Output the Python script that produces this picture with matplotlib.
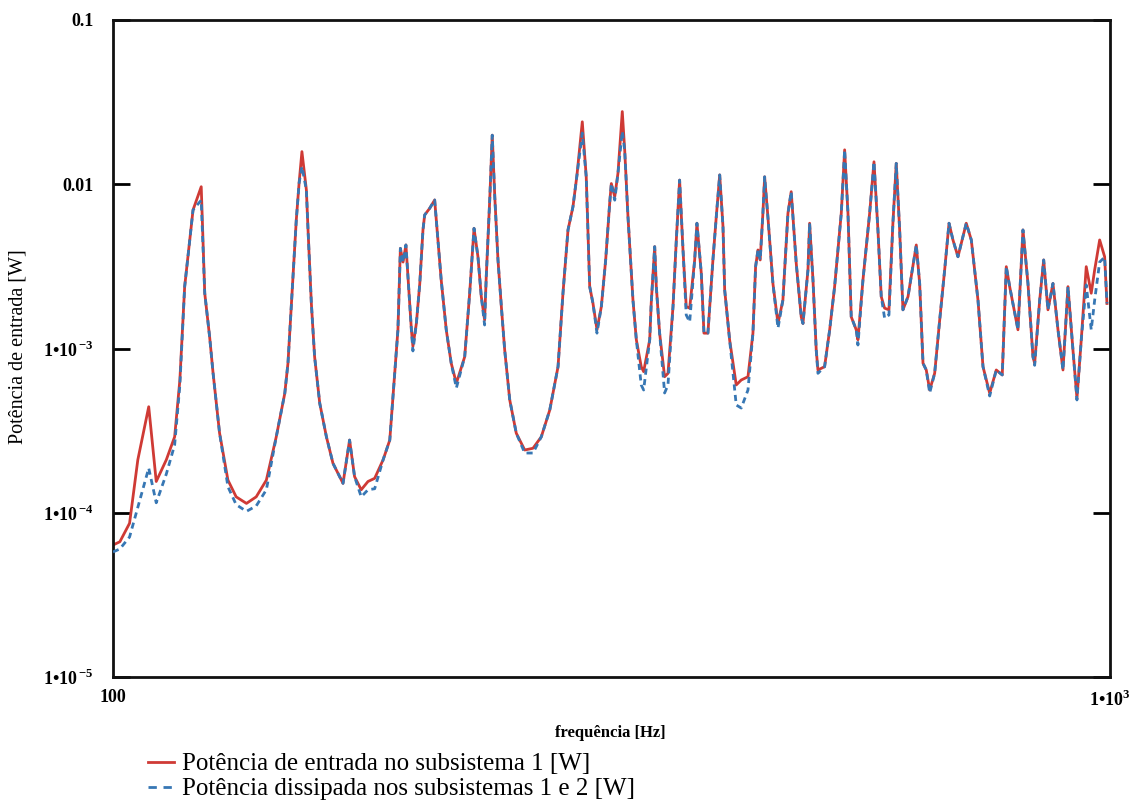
# ----------------------------------------------------------------------------------------------------------------------
# IMPORT GENERAL PACKAGES
# ----------------------------------------------------------------------------------------------------------------------

import matplotlib
matplotlib.use('Agg')
import matplotlib.pyplot as plt
from matplotlib.ticker import FixedLocator, NullLocator
from matplotlib.lines import Line2D

plt.rcParams['font.family'] = 'Liberation Serif'
plt.rcParams['mathtext.fontset'] = 'custom'
plt.rcParams['mathtext.rm'] = 'Liberation Serif'
plt.rcParams['mathtext.bf'] = 'Liberation Serif:bold'

# ----------------------------------------------------------------------------------------------------------------------
# DATA
# ----------------------------------------------------------------------------------------------------------------------

freq_hz = [
    100.0, 101.6, 103.9, 105.9, 108.6, 110.5, 113.1, 115.3, 116.7, 118.0,
    120.3, 122.6, 123.6, 125.0, 126.0, 127.9, 130.4, 132.9, 136.1, 139.2,
    142.5, 145.8, 148.7, 149.8, 152.7, 153.7, 154.7, 156.3, 156.9, 158.1,
    159.3, 161.2, 163.7, 166.2, 170.1, 172.7, 174.7, 177.4, 180.2, 183.0,
    186.6, 189.5, 191.7, 193.1, 194.2, 195.4, 196.7, 199.2, 199.9, 201.5,
    203.1, 204.6, 205.4, 207.8, 210.2, 213.4, 215.9, 218.4, 221.0, 225.3,
    227.9, 230.2, 232.3, 234.1, 235.9, 236.8, 238.7, 240.1, 241.5, 243.3,
    245.2, 247.1, 250.0, 253.8, 258.8, 263.8, 268.9, 274.2, 279.5, 282.7,
    286.0, 289.3, 292.0, 295.6, 298.3, 300.7, 303.0, 305.8, 308.9, 312.0,
    314.9, 316.1, 318.6, 321.0, 324.2, 326.0, 328.5, 332.3, 334.9, 338.7,
    340.6, 345.4, 346.6, 349.4, 350.7, 353.4, 357.5, 360.3, 364.5, 367.3,
    370.1, 373.0, 375.8, 378.8, 383.2, 385.2, 389.1, 391.5, 395.1, 399.7,
    402.8, 406.0, 409.1, 410.7, 415.4, 421.8, 426.7, 433.4, 438.4, 441.1,
    443.5, 445.8, 448.6, 450.4, 453.8, 459.1, 464.5, 469.8, 475.3, 478.9,
    484.5, 490.1, 492.1, 497.8, 499.7, 503.6, 507.4, 509.4, 517.3, 523.4,
    529.4, 537.6, 541.8, 546.0, 550.1, 556.5, 558.7, 565.2, 574.0, 579.8,
    585.1, 589.6, 594.2, 600.2, 605.7, 610.4, 615.2, 619.9, 627.2, 639.3,
    644.3, 649.3, 654.2, 659.4, 667.0, 674.8, 682.6, 689.5, 695.8, 703.9,
    717.5, 725.9, 737.2, 745.8, 757.4, 769.0, 779.7, 787.0, 793.2, 808.5,
    817.9, 827.4, 837.0, 840.3, 850.1, 858.0, 866.5, 876.6, 886.8, 897.1,
    907.5, 918.0, 926.5, 935.8, 946.6, 957.6, 965.2, 976.4, 987.7, 993.0,
]

# input power in subsystem 1 [W]
pot_entrada = [
    6.36e-5, 6.66e-5, 8.63e-5, 2.10e-4, 4.42e-4, 1.55e-4, 2.10e-4, 2.90e-4, 6.43e-4, 2.38e-3,
    6.97e-3, 9.66e-3, 2.17e-3, 1.18e-3, 7.09e-4, 3.06e-4, 1.58e-4, 1.25e-4, 1.14e-4, 1.25e-4,
    1.58e-4, 2.90e-4, 5.34e-4, 8.16e-4, 6.06e-3, 1.02e-2, 1.58e-2, 9.23e-3, 5.27e-3, 1.89e-3,
    8.91e-4, 4.64e-4, 2.90e-4, 2.00e-4, 1.51e-4, 2.77e-4, 1.66e-4, 1.38e-4, 1.55e-4, 1.62e-4,
    2.10e-4, 2.77e-4, 7.06e-4, 1.30e-3, 4.07e-3, 3.36e-3, 4.27e-3, 1.30e-3, 1.03e-3, 1.42e-3,
    2.49e-3, 5.27e-3, 6.50e-3, 7.14e-3, 8.02e-3, 2.61e-3, 1.30e-3, 8.13e-4, 6.14e-4, 8.91e-4,
    2.17e-3, 5.39e-3, 3.62e-3, 2.07e-3, 1.49e-3, 2.74e-3, 8.02e-3, 1.99e-2, 8.40e-3, 3.46e-3,
    1.80e-3, 9.79e-4, 4.86e-4, 3.05e-4, 2.41e-4, 2.47e-4, 2.90e-4, 4.22e-4, 7.75e-4, 2.17e-3,
    5.27e-3, 7.30e-3, 1.14e-2, 2.40e-2, 1.11e-2, 2.38e-3, 1.88e-3, 1.30e-3, 1.80e-3, 3.46e-3,
    7.66e-3, 1.01e-2, 8.40e-3, 1.17e-2, 2.77e-2, 1.62e-2, 6.34e-3, 1.97e-3, 1.13e-3, 7.75e-4,
    7.23e-4, 1.13e-3, 1.88e-3, 4.17e-3, 2.38e-3, 1.24e-3, 6.73e-4, 7.06e-4, 1.80e-3, 4.58e-3,
    1.06e-2, 3.98e-3, 1.80e-3, 1.76e-3, 3.46e-3, 5.79e-3, 2.87e-3, 1.24e-3, 1.24e-3, 3.46e-3,
    6.34e-3, 1.14e-2, 5.52e-3, 2.27e-3, 1.13e-3, 6.00e-4, 6.43e-4, 6.73e-4, 1.24e-3, 3.15e-3,
    3.98e-3, 3.46e-3, 6.65e-3, 1.11e-2, 6.34e-3, 2.49e-3, 1.42e-3, 1.97e-3, 6.65e-3, 9.01e-3,
    3.30e-3, 1.56e-3, 1.42e-3, 3.01e-3, 5.79e-3, 2.61e-3, 9.79e-4, 7.40e-4, 7.75e-4, 1.30e-3,
    2.38e-3, 6.65e-3, 1.62e-2, 6.65e-3, 1.56e-3, 1.30e-3, 1.13e-3, 2.61e-3, 6.65e-3, 1.37e-2,
    5.27e-3, 2.07e-3, 1.76e-3, 1.72e-3, 5.79e-3, 1.34e-2, 5.27e-3, 1.72e-3, 2.07e-3, 4.27e-3,
    2.49e-3, 8.13e-4, 7.40e-4, 5.59e-4, 7.06e-4, 1.49e-3, 3.01e-3, 5.79e-3, 4.58e-3, 3.62e-3,
    5.79e-3, 4.58e-3, 1.97e-3, 7.75e-4, 5.34e-4, 7.40e-4, 6.90e-4, 3.15e-3, 2.38e-3, 1.30e-3,
    5.27e-3, 2.49e-3, 8.91e-4, 8.13e-4, 1.97e-3, 3.46e-3, 1.72e-3, 2.49e-3, 1.30e-3, 7.40e-4,
    2.38e-3, 9.79e-4, 4.98e-4, 1.13e-3, 3.15e-3, 2.17e-3, 3.01e-3, 4.58e-3, 3.62e-3, 1.88e-3,
]

# power dissipated in subsystems 1 and 2 [W]
pot_dissipada = [
    5.77e-5, 6.02e-5, 7.12e-5, 1.08e-4, 1.87e-4, 1.15e-4, 1.72e-4, 2.59e-4, 6.00e-4, 2.38e-3,
    6.97e-3, 8.00e-3, 2.17e-3, 1.18e-3, 7.09e-4, 3.06e-4, 1.44e-4, 1.12e-4, 1.02e-4, 1.10e-4,
    1.38e-4, 2.90e-4, 5.34e-4, 8.16e-4, 6.06e-3, 1.02e-2, 1.28e-2, 9.23e-3, 5.27e-3, 1.89e-3,
    8.91e-4, 4.64e-4, 2.90e-4, 2.00e-4, 1.51e-4, 2.77e-4, 1.66e-4, 1.25e-4, 1.38e-4, 1.40e-4,
    2.10e-4, 2.77e-4, 7.06e-4, 1.30e-3, 4.07e-3, 3.36e-3, 4.27e-3, 1.30e-3, 9.66e-4, 1.42e-3,
    2.49e-3, 5.27e-3, 6.50e-3, 7.14e-3, 8.02e-3, 2.61e-3, 1.30e-3, 8.13e-4, 5.75e-4, 8.91e-4,
    2.17e-3, 5.39e-3, 3.62e-3, 2.07e-3, 1.39e-3, 2.74e-3, 8.02e-3, 1.99e-2, 8.40e-3, 3.46e-3,
    1.80e-3, 9.79e-4, 4.86e-4, 3.05e-4, 2.31e-4, 2.31e-4, 2.90e-4, 4.22e-4, 7.75e-4, 2.17e-3,
    5.27e-3, 7.30e-3, 1.14e-2, 2.05e-2, 1.11e-2, 2.38e-3, 1.88e-3, 1.24e-3, 1.80e-3, 3.46e-3,
    7.66e-3, 1.01e-2, 8.00e-3, 1.17e-2, 2.10e-2, 1.62e-2, 6.34e-3, 1.97e-3, 1.13e-3, 6.00e-4,
    5.59e-4, 1.13e-3, 1.88e-3, 4.17e-3, 2.38e-3, 1.24e-3, 5.36e-4, 6.00e-4, 1.80e-3, 4.58e-3,
    1.06e-2, 3.98e-3, 1.60e-3, 1.45e-3, 3.46e-3, 5.79e-3, 2.87e-3, 1.24e-3, 1.24e-3, 3.46e-3,
    6.34e-3, 1.14e-2, 5.52e-3, 2.27e-3, 1.13e-3, 4.53e-4, 4.34e-4, 5.59e-4, 1.24e-3, 3.15e-3,
    3.98e-3, 3.46e-3, 6.65e-3, 1.11e-2, 6.34e-3, 2.49e-3, 1.33e-3, 1.97e-3, 6.65e-3, 9.01e-3,
    3.30e-3, 1.56e-3, 1.42e-3, 3.01e-3, 5.79e-3, 2.61e-3, 9.79e-4, 7.06e-4, 7.75e-4, 1.30e-3,
    2.38e-3, 6.65e-3, 1.62e-2, 6.65e-3, 1.56e-3, 1.30e-3, 1.05e-3, 2.61e-3, 6.65e-3, 1.37e-2,
    5.27e-3, 2.07e-3, 1.53e-3, 1.60e-3, 5.79e-3, 1.34e-2, 5.27e-3, 1.72e-3, 2.07e-3, 4.27e-3,
    2.49e-3, 8.13e-4, 7.40e-4, 5.36e-4, 7.06e-4, 1.49e-3, 3.01e-3, 5.79e-3, 4.58e-3, 3.62e-3,
    5.79e-3, 4.58e-3, 1.97e-3, 7.75e-4, 5.14e-4, 7.40e-4, 6.90e-4, 3.15e-3, 2.38e-3, 1.30e-3,
    5.27e-3, 2.49e-3, 8.91e-4, 7.90e-4, 1.97e-3, 3.46e-3, 1.72e-3, 2.49e-3, 1.30e-3, 7.40e-4,
    2.38e-3, 9.79e-4, 4.86e-4, 1.13e-3, 2.44e-3, 1.30e-3, 1.97e-3, 3.36e-3, 3.60e-3, 1.88e-3,
]

y_ticks = [1e-1, 1e-2, 1e-3, 1e-4, 1e-5]
y_tick_labels = ['0.1', '0.01',
                 '1\u202210$^{\\,\\mathbf{-3}}$', '1\u202210$^{\\,\\mathbf{-4}}$', '1\u202210$^{\\,\\mathbf{-5}}$']
x_ticks = [100, 1000]
x_tick_labels = ['100', '1\u202210$^{\\mathbf{3}}$']

label_entrada = 'Potência de entrada no subsistema 1 [W]'
label_dissipada = 'Potência dissipada nos subsistemas 1 e 2 [W]'

# ----------------------------------------------------------------------------------------------------------------------
# PLOT
# ----------------------------------------------------------------------------------------------------------------------

red = '#cf3a35'
blue = '#3777b4'

fig = plt.figure(figsize=(11.32, 8.08), dpi=100)
ax = fig.add_axes([113 / 1132, 1 - 677 / 808, 997 / 1132, 657 / 808])

ax.plot(freq_hz, pot_entrada, color=red, linewidth=2.0, zorder=2)
ax.plot(freq_hz, pot_dissipada, color=blue, linewidth=2.0, linestyle=(0, (2.2, 1.6)), zorder=3)

ax.set_xscale('log')
ax.set_yscale('log')
ax.set_xlim(100, 1000)
ax.set_ylim(1e-5, 0.1)

ax.yaxis.set_major_locator(FixedLocator(y_ticks))
ax.yaxis.set_minor_locator(NullLocator())
ax.set_yticklabels(y_tick_labels)
ax.xaxis.set_major_locator(FixedLocator(x_ticks))
ax.xaxis.set_minor_locator(NullLocator())
ax.set_xticklabels(x_tick_labels)

ax.tick_params(axis='y', direction='in', length=12, width=2, left=True, right=True, pad=14, labelsize=13)
ax.tick_params(axis='x', length=0, pad=9, labelsize=13)
for lab in ax.get_yticklabels() + ax.get_xticklabels():
    lab.set_fontweight('bold')
for sp in ax.spines.values():
    sp.set_linewidth(2)
    sp.set_color('#111111')

fig.text(18 / 1132, 1 - 347 / 808, 'Potência de entrada [W]', rotation=90, ha='center', va='center', fontsize=14.5)
fig.text(610 / 1132, 1 - 733 / 808, 'frequência [Hz]', ha='center', va='center', fontsize=12, fontweight='bold')

# Legend under the axes ------------------------------------------------------------------------------------------------
handles = [Line2D([], [], color=red, linewidth=2.0),
           Line2D([], [], color=blue, linewidth=2.0, linestyle=(0, (3.0, 2.4)))]
fig.legend(handles, [label_entrada, label_dissipada], loc='upper left', bbox_to_anchor=(148 / 1132, 1 - 753 / 808),
           frameon=False, fontsize=18, handlelength=1.05, handletextpad=0.3, labelspacing=0.1,
           borderaxespad=0, borderpad=0)

plt.savefig('out.png', dpi=100)
